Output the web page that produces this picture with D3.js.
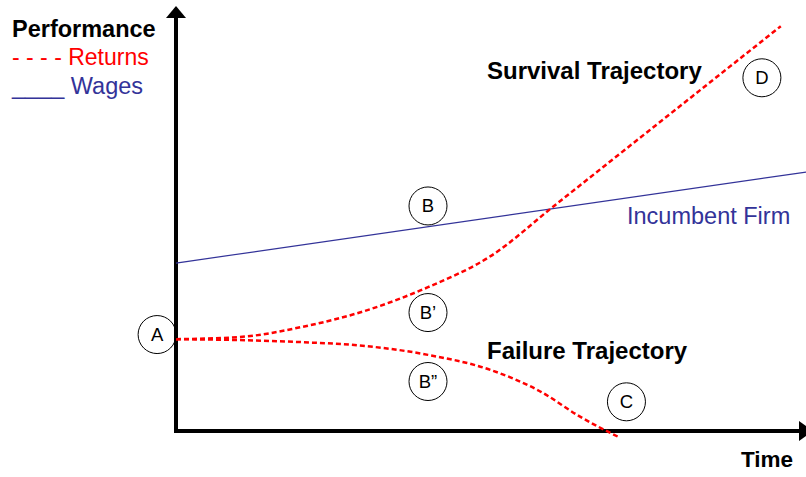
<!DOCTYPE html>
<html>
<head>
<meta charset="utf-8">
<script src="https://cdn.jsdelivr.net/npm/d3@7"></script>
<style>
  body { margin: 0; background: #fff; }
  svg { display: block; font-family: "Liberation Sans", Arial, sans-serif; }
</style>
</head>
<body>
<svg id="chart" width="806" height="477"></svg>
<script>
// time on x, performance on y (arbitrary units 0..10)
const wagesT = [0, 10]
const wagesV = [3.97, 6.12]
const survivalT = [0, 1, 2, 3, 4, 5, 6, 9.6]
const survivalV = [2.17, 2.22, 2.46, 2.84, 3.40, 4.14, 5.32, 9.57]
const failureT = [0, 1, 2, 3, 4, 5, 5.8, 6.4, 7.05]
const failureV = [2.17, 2.15, 2.10, 2.01, 1.80, 1.44, 0.92, 0.35, -0.16]
const markerNames = ["A", "B", "B\u2019", "B\u201d", "C", "D"]
const markerT = [-0.3, 4.0, 4.0, 4.0, 7.15, 9.3]
const markerV = [2.28, 5.32, 2.8, 1.17, 0.69, 8.35]

const svg = d3.select("#chart")
const x = d3.scaleLinear().domain([0, 10]).range([176, 806])
const y = d3.scaleLinear().domain([0, 10]).range([431, 8])

const red = "#ff0000", blue = "#333399"

// axes with arrow heads
const ax = svg.append("g")
ax.append("line")
  .attr("x1", x(0)).attr("x2", x(0))
  .attr("y1", y(0) + 2).attr("y2", 16)
  .attr("stroke", "#000").attr("stroke-width", 4)
ax.append("path")
  .attr("d", `M${x(0) - 10},18 L${x(0)},6 L${x(0) + 10},18 Z`)
  .attr("fill", "#000")
ax.append("line")
  .attr("x1", x(0) - 2).attr("x2", 802)
  .attr("y1", y(0)).attr("y2", y(0))
  .attr("stroke", "#000").attr("stroke-width", 4)
ax.append("path")
  .attr("d", `M799,${y(0) - 10} L813,${y(0)} L799,${y(0) + 10} Z`)
  .attr("fill", "#000")

const line = d3.line()
  .x(d => x(d[0]))
  .y(d => y(d[1]))
  .curve(d3.curveMonotoneX)

svg.append("path")
  .datum(d3.zip(wagesT, wagesV))
  .attr("d", line)
  .attr("fill", "none")
  .attr("stroke", blue)
  .attr("stroke-width", 1.2)

svg.selectAll("path.traj")
  .data([d3.zip(survivalT, survivalV), d3.zip(failureT, failureV)])
  .enter()
  .append("path")
  .attr("class", "traj")
  .attr("d", line)
  .attr("fill", "none")
  .attr("stroke", red)
  .attr("stroke-width", 2.5)
  .attr("stroke-dasharray", "5,3")

// circled labels
const marks = svg.selectAll("g.mark")
  .data(d3.zip(markerNames, markerT, markerV))
  .enter()
  .append("g")
  .attr("class", "mark")
  .attr("transform", d => `translate(${x(d[1])},${y(d[2])})`)
marks.append("circle")
  .attr("r", 19)
  .attr("fill", "none")
  .attr("stroke", "#000")
  .attr("stroke-width", 1)
marks.append("text")
  .attr("text-anchor", "middle")
  .attr("dy", 6.5)
  .attr("font-size", 18.5)
  .text(d => d[0])

// annotations
const label = (tx, ty, txt, size, weight, color) =>
  svg.append("text")
    .attr("x", tx).attr("y", ty)
    .attr("font-size", size)
    .attr("font-weight", weight)
    .attr("fill", color)
    .text(txt)

label(12, 37, "Performance", 23.5, "bold", "#000")
label(12, 65, "- - - - Returns", 23, "normal", red)
label(12, 94, "____ Wages", 23.5, "normal", blue)
label(487, 79, "Survival Trajectory", 24, "bold", "#000")
label(487, 359, "Failure Trajectory", 24, "bold", "#000")
label(627, 224, "Incumbent Firm", 23.5, "normal", blue)
label(741, 467, "Time", 22.5, "bold", "#000")
</script>
</body>
</html>
